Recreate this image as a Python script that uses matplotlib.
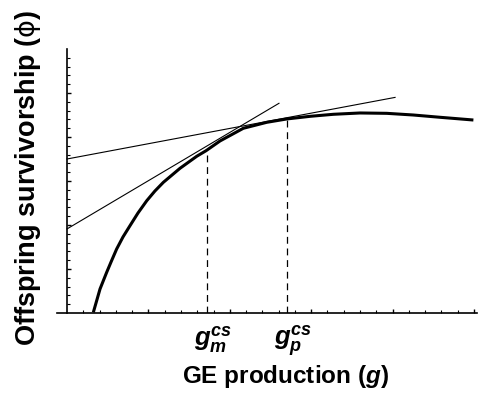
import numpy as np
import matplotlib
matplotlib.use("Agg")
import matplotlib.pyplot as plt
from matplotlib.ticker import FixedLocator

# --- data (x in tick units, y in tick units) ---
curve_x = [1.62, 2.03, 2.44, 2.73, 3.05, 3.44, 3.87, 4.36, 4.90, 5.40, 5.92, 6.94,
           7.97, 8.54, 9.40, 10.83, 12.27, 13.50, 14.93, 16.36, 18.00, 19.64,
           21.27, 22.91, 24.96]
curve_y = [0.08, 2.73, 4.63, 5.90, 7.27, 8.64, 9.92, 11.36, 12.76, 13.86, 14.85,
           16.44, 17.81, 18.44, 19.55, 20.99, 21.67, 22.05, 22.35, 22.58, 22.73,
           22.69, 22.50, 22.24, 21.93]

# tangent lines (start at the y axis, end where they stop in the figure)
steep_x = [0.0, 13.02]
steep_y = [9.55, 23.83]
shallow_x = [0.0, 20.15]
shallow_y = [17.5, 24.5]

# optimum points
g_opt = [8.58, 13.50]
g_opt_y = [18.5, 22.05]
g_labels = [r"$g^{cs}_{m}$", r"$g^{cs}_{p}$"]

x_ticks = np.arange(1, 26)
y_ticks = np.arange(1, 30)

plt.rcParams['font.family'] = ['Liberation Sans', 'DejaVu Sans']
plt.rcParams['mathtext.fontset'] = 'custom'
plt.rcParams['mathtext.rm'] = 'Liberation Sans:bold'
plt.rcParams['mathtext.it'] = 'Liberation Sans:bold:italic'
plt.rcParams['mathtext.bf'] = 'Liberation Sans:bold'


def make_plot():
    W, H = 478, 402
    fig = plt.figure(figsize=(W / 100, H / 100), dpi=100)
    ax = fig.add_axes([57.2 / W, 1 - 314 / H, 420.1 / W, 264 / H])
    ax.set_xlim(-0.6, 25.2)
    ax.set_ylim(0, 30)

    # Mathematica-style crossing axes
    ax.spines['top'].set_visible(False)
    ax.spines['right'].set_visible(False)
    ax.spines['left'].set_position(('data', 0))
    ax.spines['bottom'].set_position(('data', 0))
    ax.spines['left'].set_bounds(0, 30)
    for s in ['left', 'bottom']:
        ax.spines[s].set_linewidth(1.2)

    ax.xaxis.set_major_locator(FixedLocator([t for t in x_ticks if t % 5 == 0]))
    ax.xaxis.set_minor_locator(FixedLocator([t for t in x_ticks if t % 5 != 0]))
    ax.yaxis.set_major_locator(FixedLocator([t for t in y_ticks if t % 5 == 0]))
    ax.yaxis.set_minor_locator(FixedLocator([t for t in y_ticks if t % 5 != 0]))
    ax.tick_params(which='major', direction='in', length=3, width=1.0,
                   labelbottom=False, labelleft=False)
    ax.tick_params(which='minor', direction='in', length=2, width=0.8)

    # dashed drop lines
    for gx, gy in zip(g_opt, g_opt_y):
        ax.plot([gx, gx], [0, gy], color='black', lw=0.9,
                linestyle=(0, (5.5, 3.8)), zorder=2)

    # tangent lines
    ax.plot(steep_x, steep_y, color='black', lw=0.8, zorder=3)
    ax.plot(shallow_x, shallow_y, color='black', lw=0.8, zorder=3)

    # survivorship curve
    ax.plot(curve_x, curve_y, color='black', lw=2.2, solid_capstyle='butt',
            solid_joinstyle='round', zorder=4)

    # g^cs labels under the axis
    for gx, lab in zip(g_opt, g_labels):
        ax.annotate(lab, xy=(gx, 0), xycoords='data', xytext=(4.5, -7),
                    textcoords='offset points', ha='center', va='top',
                    fontsize=18.5)

    fig.text(285.5 / W, 1 - 383.3 / H, r"GE production ($g$)",
             fontsize=17.5, fontweight='bold', ha='center', va='baseline')
    fig.text(28.5 / W, 1 - 178 / H, r"Offspring survivorship ($\mathrm{\phi}$)",
             fontsize=19.5, fontweight='bold', rotation=90,
             ha='center', va='center', math_fontfamily='dejavusans')

    fig.savefig("out.png", dpi=100)
    plt.close(fig)
    print("Saved out.png")


if __name__ == "__main__":
    make_plot()
